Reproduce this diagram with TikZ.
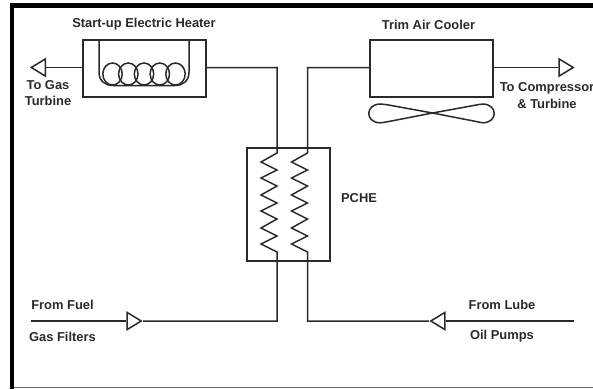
\documentclass[tikz,border=0pt]{standalone}
\usepackage{fontspec}
\setmainfont{Liberation Sans}
\usetikzlibrary{shapes.geometric,calc}
\definecolor{ink}{HTML}{2A2A2A}
\tikzset{
  line/.style={draw=ink,line width=1.5pt,line join=miter},
  unitbox/.style={draw=ink,line width=1.5pt,rectangle,inner sep=0pt,anchor=north west},
  flowtri/.style={draw=ink,line width=1.5pt,fill=white,isosceles triangle,isosceles triangle stretches,
     minimum width=17pt,minimum height=14pt,inner sep=0pt,anchor=center},
  lab/.style={font=\bfseries\fontsize{12.9pt}{15pt}\selectfont,text=ink,inner sep=0pt,align=center}
}
\begin{document}
\begin{tikzpicture}[x=1pt,y=-1pt]
\useasboundingbox (0,0) rectangle (593,389);
% frame
\fill[black] (9.5,3) rectangle (14,389);
\fill[black] (9.5,3) rectangle (593,8);
\draw[draw=gray!80!black,line width=1pt] (14,387.8) -- (593,387.8);
% boxes
\node[unitbox,minimum width=123pt,minimum height=57pt] (heater) at (82,39) {};
\node[unitbox,minimum width=123pt,minimum height=57pt] (cooler) at (369,39) {};
\node[unitbox,minimum width=83pt,minimum height=113pt] (pche) at (246,147) {};
% triangles
\node[flowtri,shape border rotate=180] (outL) at (40.5,67.5) {};
\node[flowtri] (outR) at (564,67.5) {};
\node[flowtri] (inL) at (132,321) {};
\node[flowtri,shape border rotate=180] (inR) at (440,321) {};
% end points
\coordinate (h1) at (277,67.5);
\coordinate (c1) at (307.5,67.5);
\coordinate (f1) at (277,321);
\coordinate (l1) at (307.5,321);
\coordinate (fs) at (31,321);
\coordinate (ls) at (574,321);
% connectors
\draw[line] (heater.west |- outL) -- (outL.east);
\draw[line] (cooler.east |- outR) -- (outR.west);
\draw[line] (heater.east |- h1) -- (h1) -- (277,153)
  -- (261,162) -- (277,170) -- (261,178) -- (277,186) -- (261,195) -- (277,203) -- (261,211)
  -- (277,219) -- (261,228) -- (277,236) -- (261,244) -- (277,252) -- (f1) -- (inL.east);
\draw[line] (inL.west) -- (fs);
\draw[line] (cooler.west |- c1) -- (c1) -- (307.5,153)
  -- (291.5,162) -- (307.5,170) -- (291.5,178) -- (307.5,186) -- (291.5,195) -- (307.5,203) -- (291.5,211)
  -- (307.5,219) -- (291.5,228) -- (307.5,236) -- (291.5,244) -- (307.5,252) -- (l1) -- (inR.west);
\draw[line] (inR.east) -- (ls);
% heater coil
\draw[line] (99,39) -- (99,72) .. controls (99,81) and (105,85.5) .. (113,85.5)
  -- (175,85.5) .. controls (183,85.5) and (189,81) .. (189,72) -- (189,39);
\foreach \cx in {112.5,128.3,144,159.8,175.5}
  \draw[line] (\cx,74) ellipse [x radius=9.7,y radius=11];
% fan
\draw[line] (432.5,113) -- (394,106) .. controls (386,104.5) and (382,104) .. (380,104)
  .. controls (365,104.5) and (365,122.5) .. (380,122.8)
  .. controls (382,122.8) and (386,122) .. (394,120.5)
  -- (432.5,113) -- (471,106) .. controls (479,104.5) and (481,104) .. (483,104)
  .. controls (498,104.5) and (498,122.5) .. (483,122.8)
  .. controls (481,122.8) and (479,122) .. (471,120.5) -- cycle;
% labels
\node[lab] (t1) at (144,24.5) {Start-up Electric Heater};
\node[lab] (t2) at (428.5,24.5) {Trim Air Cooler};
\node[lab] (t3) at (48,85) {To Gas};
\node[lab] (t3b) at (48,101) {Turbine};
\node[lab] (t4) at (547,88) {To Compressor};
\node[lab] (t4b) at (547,103.5) {\& Turbine};
\node[lab] (t5) at (359,198) {PCHE};
\node[lab] (t6) at (62.5,305) {From Fuel};
\node[lab] (t7) at (62.5,336.5) {Gas Filters};
\node[lab] (t8) at (502,305) {From Lube};
\node[lab] (t9) at (502,336.5) {Oil Pumps};
\end{tikzpicture}
\end{document}
